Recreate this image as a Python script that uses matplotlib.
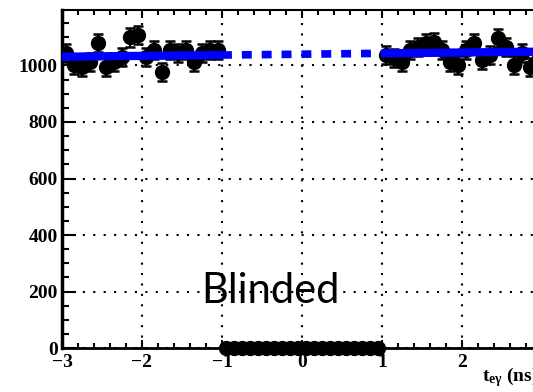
import numpy as np
import matplotlib.pyplot as plt
from matplotlib.ticker import MultipleLocator

# ---- datos: cuentas por bin de 0.1 ns ----
t_left = np.arange(-2.95, -1.0, 0.1)
n_left = [1044, 1002, 995, 1012, 1080, 995, 1012, 1030, 1100, 1108,
          1030, 1055, 977, 1055, 1044, 1055, 1012, 1044, 1055, 1055]

t_right = np.arange(1.05, 3.0, 0.1)
n_right = [1037, 1027, 1012, 1055, 1066, 1080, 1083, 1055, 1012, 1002,
           1055, 1080, 1020, 1037, 1097, 1066, 1002, 1044, 995, 1020]

# region ciega: bins puestos a cero
t_blind = np.arange(-0.95, 1.0, 0.1)
n_blind = [0] * 20

# ajuste lineal (solido fuera, discontinuo dentro de la region ciega)
fit_x_left = [-3.0, -1.0]
fit_y_left = [1031, 1037]
fit_x_mid = [-1.0, 1.0]
fit_y_mid = [1037, 1043]
fit_x_right = [1.0, 3.0]
fit_y_right = [1043, 1049]

plt.rcParams['font.family'] = 'Liberation Serif'
plt.rcParams['font.weight'] = 'bold'
plt.rcParams['mathtext.fontset'] = 'custom'
plt.rcParams['mathtext.rm'] = 'Liberation Serif:bold'
plt.rcParams['mathtext.it'] = 'Liberation Serif:bold'
plt.rcParams['mathtext.bf'] = 'Liberation Serif:bold'

fig = plt.figure(figsize=(5.33, 3.92), dpi=100)
ax = fig.add_axes([0.1163, 0.1122, 0.9006, 0.862])

ax.set_xlim(-3, 3)
ax.set_ylim(0, 1196)

# rejilla punteada
ax.grid(True, which='major', color='black', linestyle=(0, (1, 4)), linewidth=1.5)
ax.set_axisbelow(True)

for t, n in [(t_left, n_left), (t_right, n_right)]:
    n = np.array(n)
    ax.errorbar(t, n, yerr=np.sqrt(n), fmt='o', color='black', ms=10,
                elinewidth=1.5, capsize=3.5, capthick=1.8, zorder=3)
ax.errorbar(t_blind, n_blind, yerr=0, fmt='o', color='black', ms=10,
            zorder=3, clip_on=False)

ax.plot(fit_x_left, fit_y_left, color='#0000ff', lw=6, solid_capstyle='butt', zorder=4)
ax.plot(fit_x_right, fit_y_right, color='#0000ff', lw=6, solid_capstyle='butt', zorder=4)
ax.plot(fit_x_mid, fit_y_mid, color='#0000ff', lw=5.5, linestyle=(0, (1.3, 1.3)),
        dash_capstyle='butt', zorder=4)

# ejes estilo ROOT
ax.xaxis.set_major_locator(MultipleLocator(1))
ax.xaxis.set_minor_locator(MultipleLocator(0.2))
ax.yaxis.set_major_locator(MultipleLocator(200))
ax.yaxis.set_minor_locator(MultipleLocator(50))
ax.tick_params(axis='x', which='major', direction='in', length=6, width=1.5,
               top=True, labelsize=14, pad=4)
ax.tick_params(axis='x', which='minor', direction='in', length=3.5, width=1.5, top=True)
ax.tick_params(axis='y', which='major', direction='in', length=10, width=1.5,
               labelsize=14, pad=3)
ax.tick_params(axis='y', which='minor', direction='in', length=5, width=1.5)
ax.spines['left'].set_linewidth(2.5)
ax.spines['bottom'].set_linewidth(2)
ax.spines['top'].set_linewidth(1.5)
ax.spines['right'].set_visible(False)

ax.text(-0.4, 160, 'Blinded', fontsize=30, family='Lato', fontweight='normal',
        ha='center', va='baseline')

fig.text(0.905, 0.028, r'$t_{e\gamma}$ (ns)', fontsize=14, ha='left', va='baseline')

fig.savefig('out.png', dpi=100)
